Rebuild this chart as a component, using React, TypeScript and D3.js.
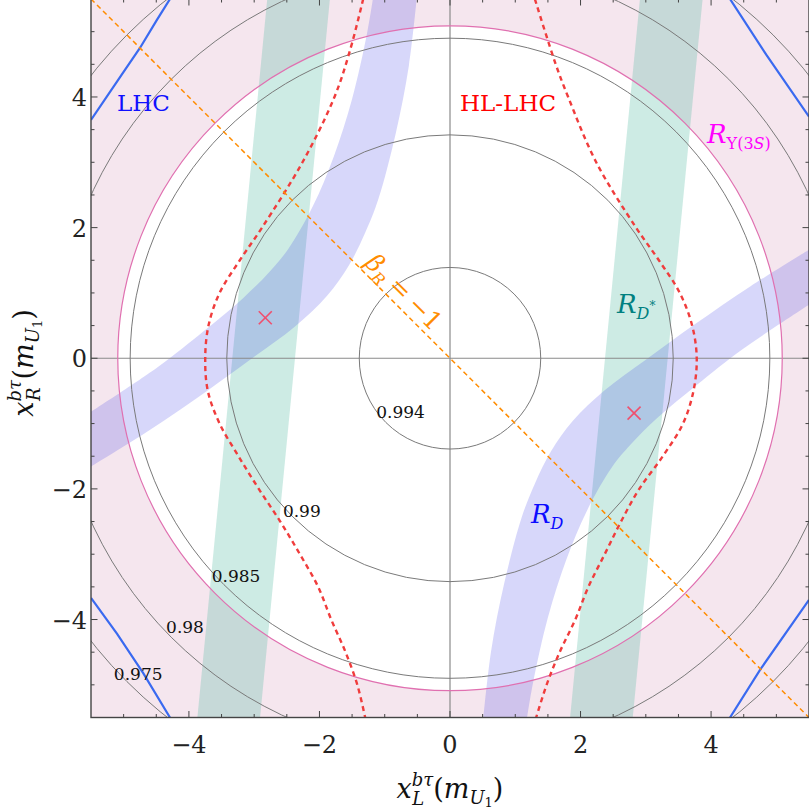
import React from 'react';
import * as d3 from 'd3';

const WIDTH = 809;
const HEIGHT = 812;

// ---------- axes ----------
const xDomain: [number, number] = [-5.5, 5.5];
const yDomain: [number, number] = [-5.5, 5.5];
const majorTicks = [-4, -2, 0, 2, 4];
const tickLabels = ['−4', '−2', '0', '2', '4'];
const minorTicks = [-5, -4.5, -3.5, -3, -2.5, -1.5, -1, -0.5, 0.5, 1, 1.5, 2.5, 3, 3.5, 4.5, 5];

// ---------- contours of the fit (circles) ----------
const contourRadii = [1.39, 3.42, 4.9, 6.04, 7.0];
const contourLabels = ['0.994', '0.99', '0.985', '0.98', '0.975'];
const contourLabelX = [-1.13, -2.56, -3.65, -4.35, -5.15];
const contourLabelY = [-0.92, -2.43, -3.43, -4.21, -4.93];

// ---------- R_Upsilon(3S) bound ----------
const upsilonRadius = 5.09;

// ---------- R_D* bands (x at top y=5.5 and bottom y=-5.5) ----------
const rDStarTopX = [[-2.80, -1.84], [2.91, 3.87]];
const rDStarBottomX = [[-3.87, -2.91], [1.84, 2.80]];

// ---------- R_D bands ----------
const rDUpperEdgeA = [
  [-5.5, -0.82], [-4.47, -0.13], [-3.78, 0.41], [-3.17, 0.92], [-2.76, 1.33], [-2.48, 1.67],
  [-2.1, 2.33], [-1.78, 3.09], [-1.5, 3.97], [-1.27, 4.98], [-1.18, 5.51],
];
const rDUpperEdgeB = [
  [-5.5, -1.66], [-4.6, -1.1], [-3.75, -0.52], [-2.99, 0.03], [-2.37, 0.49], [-1.88, 0.96],
  [-1.55, 1.42], [-1.3, 1.92], [-1.1, 2.43], [-0.83, 3.45], [-0.63, 4.48], [-0.51, 5.51],
];
const rDLowerEdgeA = [
  [0.51, -5.51], [0.63, -4.48], [0.83, -3.45], [1.1, -2.43], [1.3, -1.92], [1.55, -1.42],
  [1.88, -0.96], [2.37, -0.49], [2.99, -0.03], [3.75, 0.52], [4.6, 1.1], [5.5, 1.66],
];
const rDLowerEdgeB = [
  [1.18, -5.51], [1.27, -4.98], [1.5, -3.97], [1.78, -3.09], [2.1, -2.33], [2.48, -1.67],
  [2.76, -1.33], [3.17, -0.92], [3.78, -0.41], [4.47, 0.13], [5.5, 0.82],
];

// ---------- HL-LHC projections (red dashed) ----------
const hlLhcLeft = [
  [-1.33, 5.5], [-1.53, 4.72], [-1.77, 4.0], [-2.26, 3.0], [-2.88, 2.0], [-3.22, 1.5],
  [-3.53, 1.0], [-3.7, 0.5], [-3.75, 0.0], [-3.71, -0.5], [-3.53, -1.0], [-3.24, -1.5],
  [-2.93, -2.0], [-2.6, -2.5], [-2.3, -3.0], [-2.02, -3.5], [-1.82, -4.0], [-1.6, -4.5],
  [-1.42, -5.0], [-1.3, -5.5],
];
const hlLhcRight = [
  [1.3, 5.5], [1.62, 4.5], [1.81, 4.0], [2.24, 3.0], [2.85, 2.0], [3.2, 1.5], [3.52, 1.0],
  [3.71, 0.5], [3.78, 0.0], [3.73, -0.5], [3.57, -1.0], [3.26, -1.5], [2.9, -2.0],
  [2.62, -2.5], [2.37, -3.0], [2.12, -3.5], [1.92, -4.0], [1.68, -4.5], [1.48, -5.0], [1.32, -5.5],
];

// ---------- LHC bounds (blue solid, corners) ----------
const lhcTopLeft = [[-5.5, 3.65], [-5.05, 4.31], [-4.75, 4.75], [-4.49, 5.18], [-4.29, 5.5]];
const lhcBottomLeft = [[-5.5, -3.67], [-5.1, -4.22], [-4.7, -4.82], [-4.29, -5.5]];
const lhcTopRight = [[4.29, 5.5], [4.85, 4.64], [5.5, 3.7]];
const lhcBottomRight = [[4.29, -5.5], [4.75, -4.77], [5.5, -3.7]];

// ---------- beta_R = -1 line ----------
const betaLine = [[-5.5, 5.5], [5.5, -5.5]];

// ---------- best fit points ----------
const bestFit = [[-2.83, 0.62], [2.82, -0.84]];

const SERIF = 'DejaVu Serif';

export default function App() {
  const x = d3.scaleLinear().domain(xDomain).range([91, 809]);
  const y = d3.scaleLinear().domain(yDomain).range([717.5, -1]);
  const cx = x(0);
  const cy = y(0);
  const sx = (r: number) => x(r) - x(0);
  const sy = (r: number) => y(0) - y(r);

  const smooth = d3
    .line<number[]>()
    .x((d) => x(d[0]))
    .y((d) => y(d[1]))
    .curve(d3.curveCatmullRom.alpha(0.5));
  const straight = d3
    .line<number[]>()
    .x((d) => x(d[0]))
    .y((d) => y(d[1]));

  const band = (e1: number[][], e2: number[][]) => {
    const a = smooth(e1)!;
    const b = smooth(e2.slice().reverse())!;
    return a + 'L' + b.slice(1) + 'Z';
  };

  const ur = upsilonRadius;
  const pinkPath =
    `M${x(-5.5)},${y(5.5)}H${x(5.5)}V${y(-5.5)}H${x(-5.5)}Z` +
    `M${cx + sx(ur)},${cy}A${sx(ur)},${sy(ur)} 0 1 0 ${cx - sx(ur)},${cy}` +
    `A${sx(ur)},${sy(ur)} 0 1 0 ${cx + sx(ur)},${cy}Z`;

  const left = x(-5.5);
  const right = x(5.5);
  const top = y(5.5);
  const bottom = y(-5.5);

  const tickColor = '#444';

  return (
    <svg
      width={WIDTH}
      height={HEIGHT}
      fontFamily={SERIF}
      style={{ position: 'absolute', left: 0, top: 0, background: '#fff' }}
    >
      <defs>
        <clipPath id="plot">
          <rect x={left} y={top} width={right - left} height={bottom - top} />
        </clipPath>
      </defs>
      <rect x={0} y={0} width={WIDTH} height={HEIGHT} fill="#fff" />
      <g clipPath="url(#plot)">
        <path d={pinkPath} fill="rgb(245,230,238)" fillRule="evenodd" />
        {rDStarTopX.map((t, i) => (
          <path
            key={'ds' + i}
            d={straight([
              [t[0], 5.5],
              [t[1], 5.5],
              [rDStarBottomX[i][1], -5.5],
              [rDStarBottomX[i][0], -5.5],
            ])! + 'Z'}
            fill="rgb(88,188,165)"
            fillOpacity={0.3}
          />
        ))}
        <path d={band(rDUpperEdgeA, rDUpperEdgeB)} fill="rgb(55,55,230)" fillOpacity={0.2} />
        <path d={band(rDLowerEdgeA, rDLowerEdgeB)} fill="rgb(55,55,230)" fillOpacity={0.2} />
        <line x1={left} x2={right} y1={cy} y2={cy} stroke="#8a8a8a" strokeWidth={1.2} />
        <line x1={cx} x2={cx} y1={top} y2={bottom} stroke="#8a8a8a" strokeWidth={1.2} />
        {contourRadii.map((r, i) => (
          <ellipse key={'c' + i} cx={cx} cy={cy} rx={sx(r)} ry={sy(r)} fill="none" stroke="#7a7a7a" strokeWidth={1} />
        ))}
        <ellipse cx={cx} cy={cy} rx={sx(ur)} ry={sy(ur)} fill="none" stroke="#e070b0" strokeWidth={1.2} />
        {[lhcTopLeft, lhcBottomLeft, lhcTopRight, lhcBottomRight].map((l, i) => (
          <path key={'l' + i} d={straight(l)!} fill="none" stroke="#3a6af0" strokeWidth={2.2} />
        ))}
        {[hlLhcLeft, hlLhcRight].map((l, i) => (
          <path key={'h' + i} d={smooth(l)!} fill="none" stroke="#f03c3c" strokeWidth={2.4} strokeDasharray="5,4" />
        ))}
        <path d={straight(betaLine)!} fill="none" stroke="#ff8c00" strokeWidth={1.5} strokeDasharray="5,3.5" />
        {bestFit.map((p, i) => (
          <g key={'m' + i} stroke="#f0506e" strokeWidth={1.6}>
            <line x1={x(p[0]) - 6.5} y1={y(p[1]) - 6.5} x2={x(p[0]) + 6.5} y2={y(p[1]) + 6.5} />
            <line x1={x(p[0]) - 6.5} y1={y(p[1]) + 6.5} x2={x(p[0]) + 6.5} y2={y(p[1]) - 6.5} />
          </g>
        ))}
        {contourLabels.map((t, i) => (
          <text key={'cl' + i} x={x(contourLabelX[i])} y={y(contourLabelY[i])} fontSize={17} fill="#111">
            {t}
          </text>
        ))}
      </g>

      <text x={117} y={111} fontSize={23} fill="#1010ff">LHC</text>
      <text x={460} y={111} fontSize={23} fill="#ff0000">HL-LHC</text>
      <text x={707} y={143} fill="#ff00ff">
        <tspan fontStyle="italic" fontSize={26}>R</tspan>
        <tspan fontSize={16} dy={6}>Υ(3</tspan>
        <tspan fontSize={16} fontStyle="italic">S</tspan>
        <tspan fontSize={16}>)</tspan>
      </text>
      <text x={617} y={313} fill="#008080">
        <tspan fontStyle="italic" fontSize={26}>R</tspan>
        <tspan fontStyle="italic" fontSize={16} dy={6}>D</tspan>
        <tspan fontSize={12} dy={-9}>*</tspan>
      </text>
      <text x={531} y={523} fill="#0a0aff">
        <tspan fontStyle="italic" fontSize={26}>R</tspan>
        <tspan fontStyle="italic" fontSize={16} dy={6}>D</tspan>
      </text>
      <text transform="translate(398,298) rotate(45)" textAnchor="middle" fill="#ff8c00">
        <tspan fontStyle="italic" fontSize={25}>β</tspan>
        <tspan fontStyle="italic" fontSize={16} dy={6}>R</tspan>
        <tspan fontSize={25} dy={-6} dx={6}>=</tspan>
        <tspan fontSize={25} dx={6}>−1</tspan>
      </text>

      <g stroke={tickColor} strokeWidth={1}>
        {majorTicks.map((t, i) => (
          <g key={'mt' + i}>
            <line x1={x(t)} x2={x(t)} y1={bottom} y2={bottom - 6.5} />
            <line x1={x(t)} x2={x(t)} y1={top} y2={top + 6.5} />
            <line x1={left} x2={left + 6.5} y1={y(t)} y2={y(t)} />
            <line x1={right} x2={right - 6.5} y1={y(t)} y2={y(t)} />
          </g>
        ))}
        {minorTicks.map((t, i) => (
          <g key={'nt' + i}>
            <line x1={x(t)} x2={x(t)} y1={bottom} y2={bottom - 3.5} />
            <line x1={x(t)} x2={x(t)} y1={top} y2={top + 3.5} />
            <line x1={left} x2={left + 3.5} y1={y(t)} y2={y(t)} />
            <line x1={right} x2={right - 3.5} y1={y(t)} y2={y(t)} />
          </g>
        ))}
      </g>
      <rect x={left} y={top} width={right - left} height={bottom - top} fill="none" stroke={tickColor} strokeWidth={1.4} />

      {majorTicks.map((t, i) => (
        <text key={'bx' + i} x={x(t)} y={753} fontSize={24} textAnchor="middle" fill="#222">
          {tickLabels[i]}
        </text>
      ))}
      {majorTicks.map((t, i) => (
        <text key={'ly' + i} x={87} y={y(t) + 9} fontSize={24} textAnchor="end" fill="#222">
          {tickLabels[i]}
        </text>
      ))}

      <text x={450} y={798} textAnchor="middle" fill="#111">
        <tspan fontStyle="italic" fontSize={27}>x</tspan>
        <tspan fontStyle="italic" fontSize={18} dy={-12}>bτ</tspan>
        <tspan fontStyle="italic" fontSize={18} dx={-21} dy={19}>L</tspan>
        <tspan fontSize={27} dx={9} dy={-7}>(</tspan>
        <tspan fontStyle="italic" fontSize={27}>m</tspan>
        <tspan fontStyle="italic" fontSize={18} dy={6}>U</tspan>
        <tspan fontSize={13} dy={3}>1</tspan>
        <tspan fontSize={27} dy={-9}>)</tspan>
      </text>
      <text transform="translate(33,363) rotate(-90)" textAnchor="middle" fill="#111">
        <tspan fontStyle="italic" fontSize={27}>x</tspan>
        <tspan fontStyle="italic" fontSize={18} dy={-12}>bτ</tspan>
        <tspan fontStyle="italic" fontSize={18} dx={-21} dy={19}>R</tspan>
        <tspan fontSize={27} dx={8} dy={-7}>(</tspan>
        <tspan fontStyle="italic" fontSize={27}>m</tspan>
        <tspan fontStyle="italic" fontSize={18} dy={6}>U</tspan>
        <tspan fontSize={13} dy={3}>1</tspan>
        <tspan fontSize={27} dy={-9}>)</tspan>
      </text>
    </svg>
  );
}
